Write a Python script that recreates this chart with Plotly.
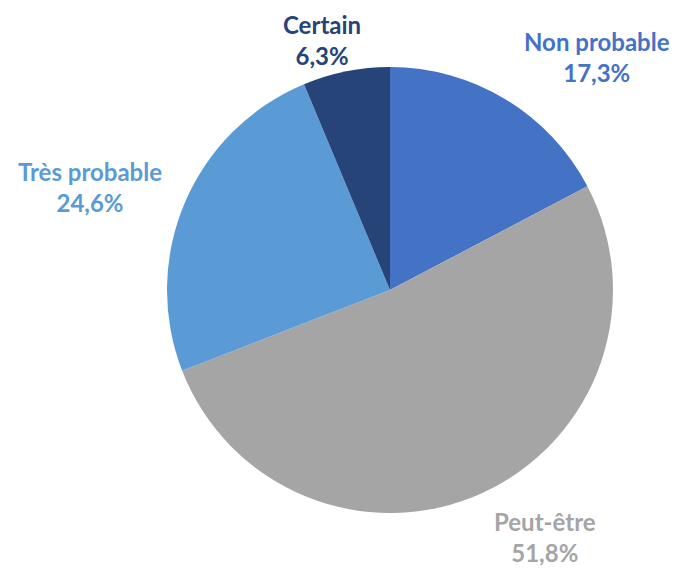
import plotly.graph_objects as go

categories = ["Non probable", "Peut-être", "Très probable", "Certain"]
values = [17.3, 51.8, 24.6, 6.3]
colors = ["#4472C4", "#A5A5A5", "#5B9BD5", "#264478"]

# label anchor positions (paper coords) for each category
label_pos = {
    "Non probable": (597 / 677, 1 - 57 / 568),
    "Peut-être": (545 / 677, 1 - 537 / 568),
    "Très probable": (90 / 677, 1 - 187 / 568),
    "Certain": (322 / 677, 1 - 40 / 568),
}

W, H = 677, 568
cx, cy, r = 390, 290, 223

fig = go.Figure(go.Pie(
    labels=categories,
    values=values,
    marker=dict(colors=colors, line=dict(width=0)),
    sort=False,
    direction="clockwise",
    rotation=0,
    textinfo="none",
    hoverinfo="label+percent",
    showlegend=False,
    domain=dict(x=[(cx - r) / W, (cx + r) / W], y=[(H - cy - r) / H, (H - cy + r) / H]),
))

annotations = []
for cat, val, col in zip(categories, values, colors):
    x, y = label_pos[cat]
    pct = f"{val:.1f}".replace(".", ",") + "%"
    annotations.append(dict(
        x=x, y=y, xref="paper", yref="paper", xanchor="center", yanchor="middle",
        text=f"<b>{cat}</b><br><b>{pct}</b>", showarrow=False,
        font=dict(family="Lato, Open Sans, sans-serif", size=24, color=col),
        align="center",
    ))

fig.update_layout(
    width=W, height=H,
    margin=dict(l=0, r=0, t=0, b=0),
    paper_bgcolor="white", plot_bgcolor="white",
    annotations=annotations,
)

fig.write_html("out.html")
